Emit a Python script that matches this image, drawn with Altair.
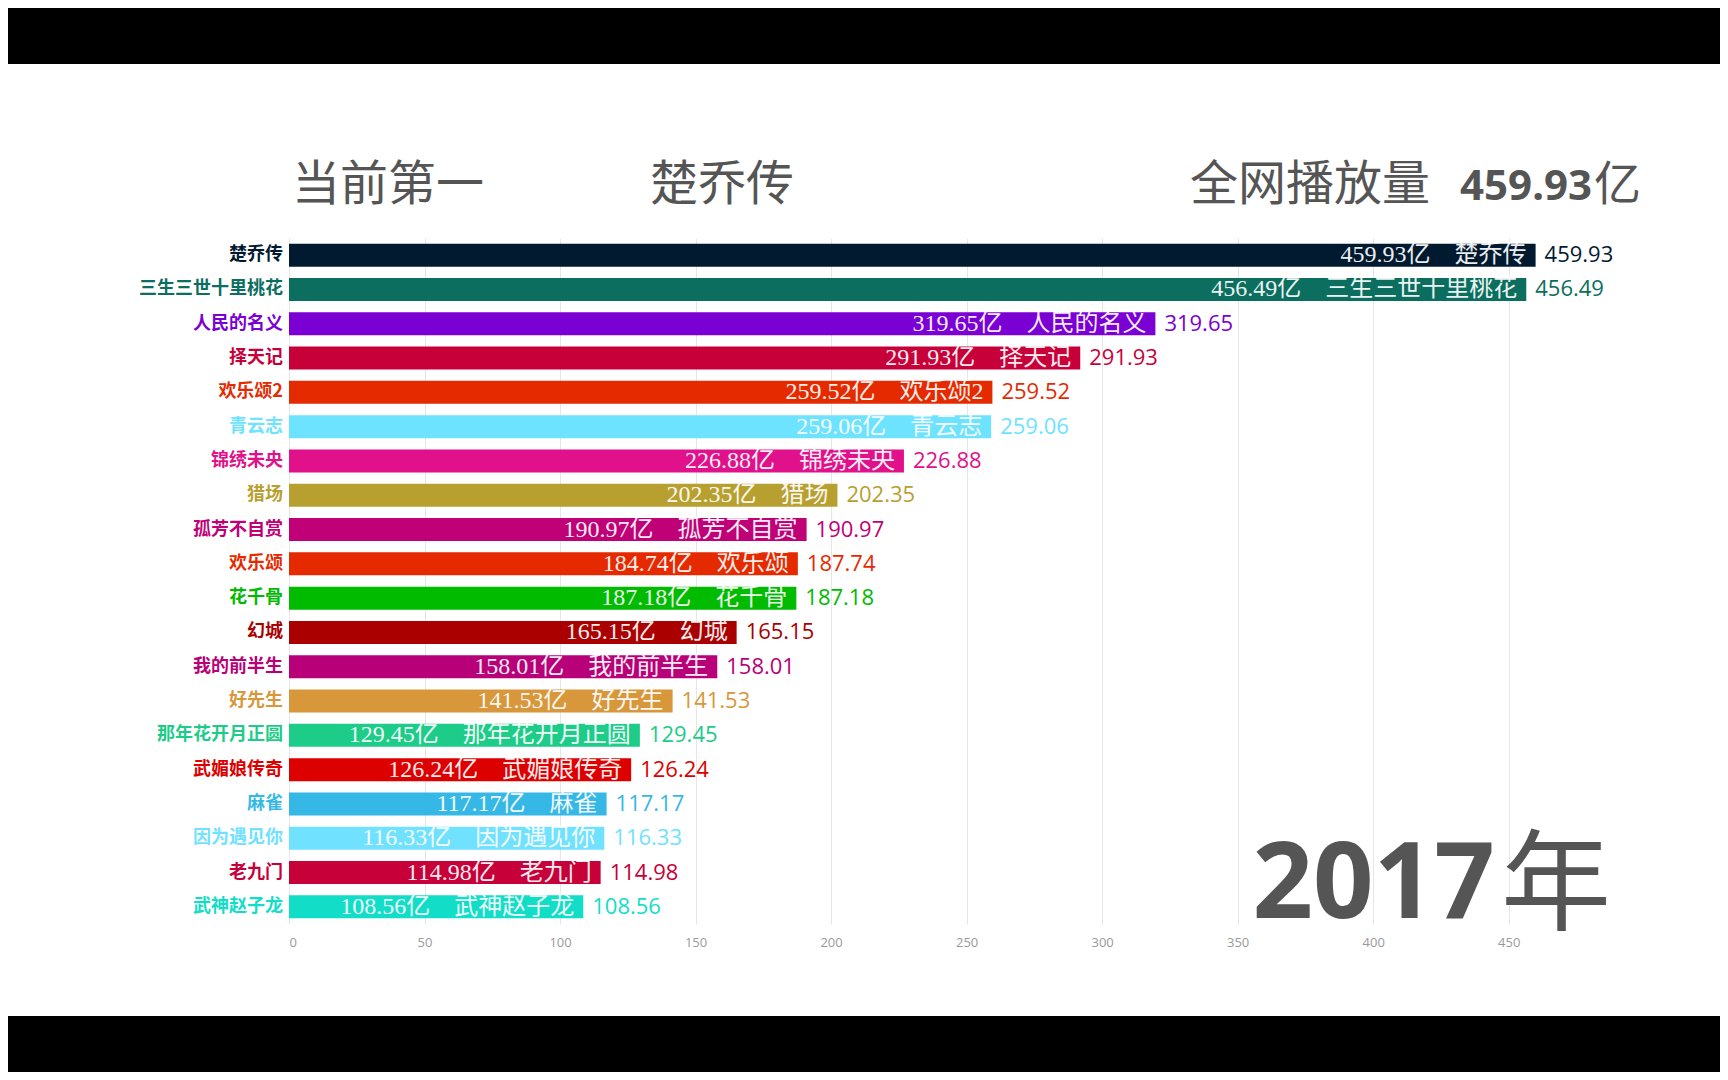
import altair as alt
import pandas as pd

# ---------------- data ----------------
names = ["楚乔传", "三生三世十里桃花", "人民的名义", "择天记", "欢乐颂2", "青云志",
         "锦绣未央", "猎场", "孤芳不自赏", "欢乐颂", "花千骨", "幻城", "我的前半生",
         "好先生", "那年花开月正圆", "武媚娘传奇", "麻雀", "因为遇见你", "老九门", "武神赵子龙"]
values = [459.93, 456.49, 319.65, 291.93, 259.52, 259.06, 226.88, 202.35, 190.97, 187.74,
          187.18, 165.15, 158.01, 141.53, 129.45, 126.24, 117.17, 116.33, 114.98, 108.56]
inner_values = [459.93, 456.49, 319.65, 291.93, 259.52, 259.06, 226.88, 202.35, 190.97, 184.74,
                187.18, 165.15, 158.01, 141.53, 129.45, 126.24, 117.17, 116.33, 114.98, 108.56]
colors = ["#021a30", "#0b6e5f", "#7a00d4", "#c8003a", "#e62a00", "#6de3ff",
          "#e0118a", "#b8a030", "#bf0077", "#e62a00", "#00bb00", "#aa0000",
          "#b80078", "#d8973a", "#1dcc88", "#dd0000", "#35b8e6", "#70e2ff",
          "#c8003a", "#12dec8"]
x_ticks = [0, 50, 100, 150, 200, 250, 300, 350, 400, 450]
year = 2017
headline = "当前第一"
total_label = "全网播放量"
unit = "亿"

# ---------------- tables ----------------
df = pd.DataFrame({
    "name": names,
    "value": values,
    "inner": [f"{v:.2f}{unit}\u3000{n}" for v, n in zip(inner_values, names)],
    "label": [f"{v:.2f}" for v in values],
})
head = pd.DataFrame({
    "headline": [headline],
    "leader": [names[0]],
    "total_label": [total_label],
    "total": [f"{values[0]:.2f}"],
    "unit": [unit],
    "year": [str(year)],
    "nian": ["年"],
})

W, H = 1301, 686
PAD = {"left": 281, "top": 230, "right": 1712 - 281 - W, "bottom": 1064 - 230 - H}

color = alt.Color("name:N", scale=alt.Scale(domain=names, range=colors), legend=None)
yenc = alt.Y("name:N", sort=names, axis=None,
             scale=alt.Scale(paddingInner=0.33, paddingOuter=0.165))
xenc = alt.X("value:Q", scale=alt.Scale(domain=[0, 480], nice=False),
             axis=alt.Axis(values=x_ticks, grid=True, gridColor="#e6e6e6", domain=False,
                           ticks=False, labelColor="#9a9a9a", labelFontSize=13,
                           labelPadding=12, title=None, labelFont="Open Sans"))

base = alt.Chart(df)
bars = base.mark_bar().encode(x=xenc, y=yenc, color=color)
inner = base.mark_text(align="right", baseline="middle", dx=-9, fontSize=24,
                       font="Liberation Serif, Noto Sans CJK SC", color="white",
                       opacity=0.92).encode(x="value:Q", y=alt.Y("name:N", sort=names), text="inner:N")
vals = base.mark_text(align="left", baseline="middle", dx=9, fontSize=22,
                      font="Open Sans").encode(x="value:Q", y=alt.Y("name:N", sort=names),
                                               text="label:N", color=color)
ylab = base.mark_text(align="right", baseline="middle", fontSize=18, fontWeight="bold",
                      font="Noto Sans CJK SC").encode(x=alt.value(-6), y=alt.Y("name:N", sort=names),
                                                      text="name:N", color=color)

hb = alt.Chart(head)
t_head = hb.mark_text(align="left", baseline="alphabetic", fontSize=48, color="#555555",
                      font="Noto Sans CJK SC").encode(x=alt.value(3), y=alt.value(-38), text="headline:N")
t_leader = hb.mark_text(align="left", baseline="alphabetic", fontSize=48, color="#555555",
                        font="Noto Sans CJK SC").encode(x=alt.value(361), y=alt.value(-38), text="leader:N")
t_tl = hb.mark_text(align="left", baseline="alphabetic", fontSize=48, color="#555555",
                    font="Noto Sans CJK SC").encode(x=alt.value(901), y=alt.value(-38), text="total_label:N")
t_total = hb.mark_text(align="right", baseline="alphabetic", fontSize=42, fontWeight="bold",
                       color="#555555", font="Noto Sans").encode(x=alt.value(1303), y=alt.value(-38), text="total:N")
t_unit = hb.mark_text(align="left", baseline="alphabetic", fontSize=47, color="#555555",
                      font="Noto Sans CJK SC").encode(x=alt.value(1305), y=alt.value(-38), text="unit:N")
t_year = hb.mark_text(align="right", baseline="alphabetic", fontSize=106, fontWeight="bold",
                      color="#555555", font="Noto Sans").encode(x=alt.value(1206), y=alt.value(680), text="year:N")
t_nian = hb.mark_text(align="left", baseline="alphabetic", fontSize=110, color="#555555",
                      font="Noto Sans CJK SC").encode(x=alt.value(1212), y=alt.value(684), text="nian:N")

band_top = hb.mark_rect(color="black").encode(
    x=alt.value(-PAD["left"]), x2=alt.value(W + PAD["right"]),
    y=alt.value(-PAD["top"]), y2=alt.value(64 - 238))
band_bot = hb.mark_rect(color="black").encode(
    x=alt.value(-PAD["left"]), x2=alt.value(W + PAD["right"]),
    y=alt.value(1016 - 238), y2=alt.value(H + PAD["bottom"]))

chart = alt.layer(
    bars, inner, vals, ylab,
    t_head, t_leader, t_tl, t_total, t_unit, t_year, t_nian,
    band_top, band_bot,
).properties(
    width=W, height=H, padding=PAD,
    autosize=alt.AutoSizeParams(type="none"),
    background="white",
).configure_view(stroke=None)

chart.save("out.html", embed_options={"renderer": "svg", "actions": False})
